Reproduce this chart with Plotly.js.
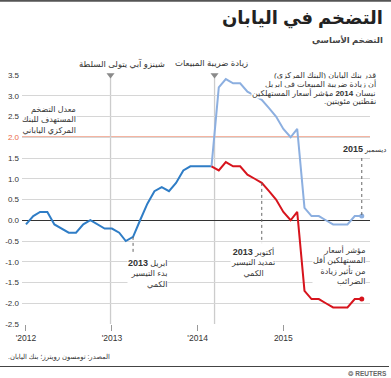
<!DOCTYPE html>
<html>
<head>
<meta charset="utf-8">
<script src="https://cdn.plot.ly/plotly-3.0.1.min.js"></script>
<style>html,body{margin:0;padding:0;background:#fff;}#chart{width:391px;height:378px;}</style>
</head>
<body>
<div id="chart"></div>
<script>
// ---- data ----
var monthsCombined = ['2012-01-01','2012-02-01','2012-03-01','2012-04-01','2012-05-01','2012-06-01','2012-07-01','2012-08-01','2012-09-01','2012-10-01','2012-11-01','2012-12-01',
  '2013-01-01','2013-02-01','2013-03-01','2013-04-01','2013-05-01','2013-06-01','2013-07-01','2013-08-01','2013-09-01','2013-10-01','2013-11-01','2013-12-01',
  '2014-01-01','2014-02-01','2014-03-01'];
var coreCombined = [-0.1,0.1,0.2,0.2,-0.1,-0.2,-0.3,-0.3,-0.1,0.0,-0.1,-0.2,
  -0.2,-0.3,-0.5,-0.4,0.0,0.4,0.7,0.8,0.7,0.9,1.2,1.3,
  1.3,1.3,1.3];
var monthsSplit = ['2014-03-01','2014-04-01','2014-05-01','2014-06-01','2014-07-01','2014-08-01','2014-09-01','2014-10-01','2014-11-01','2014-12-01',
  '2015-01-01','2015-02-01','2015-03-01','2015-04-01','2015-05-01','2015-06-01','2015-07-01','2015-08-01','2015-09-01','2015-10-01','2015-11-01','2015-12-01'];
var coreWithTax = [1.3,3.2,3.4,3.3,3.3,3.1,3.0,2.9,2.7,2.5,2.2,2.0,2.2,0.3,0.1,0.1,0.0,-0.1,-0.1,-0.1,0.1,0.1];
var coreExTax   = [1.3,1.2,1.4,1.3,1.3,1.1,1.0,0.9,0.7,0.5,0.2,0.0,0.2,-1.7,-1.9,-1.9,-2.0,-2.1,-2.1,-2.1,-1.9,-1.9];
var bojTarget = 2.0;
var eventDates = ['2012-12-26','2014-03-14'];
var eventLabels = ['شينزو آبي يتولى السلطة','زيادة ضريبة المبيعات'];
var yTickVals = [-2.5,-2.0,-1.5,-1.0,-0.5,0.0,0.5,1.0,1.5,2.0,2.5,3.0,3.5];
var xTickVals = ['2012-01-01','2013-01-01','2014-01-01','2015-01-01'];
var xTickText = ["'2012","'2013","'2014","2015"];

// ---- layout helpers (pixel -> paper) ----
var W = 391, H = 378, L = 22, R = 21, T = 75, B = 54;
var PW = W - L - R, PH = H - T - B;
function px(x){ return (x - L) / PW; }
function py(y){ return (H - B - y) / PH; }
var RLE = '\u202B';
function yr(s){ return '<b><span style="font-size:9px">' + s + '</span></b>'; }

var cDark = '#2f7dc6', cLight = '#8cafe0', cRed = '#d7141d', cTarget = '#ea6a45', cText = '#333333';
var FONT = 'Liberation Sans, Arial, DejaVu Sans, sans-serif';

var traces = [
  {x: monthsCombined, y: coreCombined, type:'scatter', mode:'lines', line:{color:cDark, width:2}, hoverinfo:'skip'},
  {x: monthsSplit, y: coreWithTax, type:'scatter', mode:'lines', line:{color:cLight, width:2}, hoverinfo:'skip'},
  {x: monthsSplit, y: coreExTax, type:'scatter', mode:'lines', line:{color:cRed, width:2}, hoverinfo:'skip'},
  {x: [monthsSplit[monthsSplit.length-1]], y:[coreWithTax[coreWithTax.length-1]], type:'scatter', mode:'markers', marker:{color:cLight, size:5}, hoverinfo:'skip'},
  {x: [monthsSplit[monthsSplit.length-1]], y:[coreExTax[coreExTax.length-1]], type:'scatter', mode:'markers', marker:{color:cRed, size:5}, hoverinfo:'skip'},
  {x: eventDates, y: [3.5,3.5], type:'scatter', mode:'markers', marker:{symbol:'triangle-down', color:'#8a8a8a', size:7}, cliponaxis:false, hoverinfo:'skip'}
];

var yTickText = yTickVals.map(function(v){
  var s = v.toFixed(1);
  return v === bojTarget ? '<span style="color:'+cTarget+'">'+s+'</span>' : s;
});

function valAt(months, vals, d){ return vals[months.indexOf(d)]; }

var shapes = [
  {type:'line', xref:'paper', yref:'paper', x0:px(0), x1:px(391), y0:py(0.8), y1:py(0.8), line:{color:'#555', width:2}},
  {type:'line', xref:'paper', yref:'paper', x0:px(0), x1:px(389), y0:py(366.5), y1:py(366.5), line:{color:'#444', width:1}},
  {type:'line', xref:'x', yref:'y', x0:eventDates[0], x1:eventDates[0], y0:-2.5, y1:3.5, layer:'below', line:{color:'#cccccc', width:1.3}},
  {type:'line', xref:'x', yref:'y', x0:eventDates[1], x1:eventDates[1], y0:-2.5, y1:3.5, layer:'below', line:{color:'#cccccc', width:1.3}},
  {type:'line', xref:'paper', yref:'y', x0:0, x1:1, y0:bojTarget, y1:bojTarget, layer:'below', line:{color:cTarget, width:1.4}},
  {type:'line', xref:'x', yref:'y', x0:'2013-04-01', x1:'2013-04-01', y0:valAt(monthsCombined, coreCombined,'2013-04-01'), y1:-0.78, line:{color:'#666', width:1, dash:'dot'}},
  {type:'line', xref:'x', yref:'y', x0:'2014-10-01', x1:'2014-10-01', y0:valAt(monthsSplit, coreExTax,'2014-10-01'), y1:-0.55, line:{color:'#666', width:1, dash:'dot'}},
  {type:'line', xref:'x', yref:'y', x0:'2015-12-01', x1:'2015-12-01', y0:1.5, y1:valAt(monthsSplit, coreWithTax,'2015-12-01'), line:{color:'#666', width:1, dash:'dot'}}
];

function ann(text, x, y, xanchor, opts){
  var a = {text:text, xref:'paper', yref:'paper', x:px(x), y:py(y), xanchor:xanchor, yanchor:'middle', showarrow:false,
    align: xanchor === 'center' ? 'center' : xanchor, font:{family:FONT, size:8, color:cText}};
  if (opts) for (var k in opts) a[k] = opts[k];
  return a;
}
var wb = {bgcolor:'#fff', borderpad:0};

var annotations = [
  ann('<b>التضخم في اليابان</b>', 385, 18, 'right', {font:{family:FONT, size:18, color:'#222'}}),
  ann('<b>التضخم الأساسي</b>', 385, 40, 'right', {font:{family:FONT, size:8.5, color:'#444'}}),
  ann(eventLabels[0], 122, 63, 'center', {font:{family:FONT, size:8.5, color:cText}}),
  ann(eventLabels[1], 211, 63, 'center', {font:{family:FONT, size:8.5, color:cText}}),
  ann(RLE + 'قدر بنك اليابان (البنك المركزي)', 377, 75.7, 'right', wb),
  ann('أن زيادة ضريبة المبيعات في ابريل', 377, 84.3, 'right', wb),
  ann(RLE + 'نيسان <b>2014</b> مؤشر أسعار المستهلكين', 377, 93, 'right', wb),
  ann(RLE + 'نقطتين مئويتين.', 377, 101.7, 'right', wb),
  ann('معدل التضخم<br>المستهدف للبنك<br>المركزي الياباني', 77, 119.5, 'right', wb),
  ann(yr('2015') + '<span style="font-size:7px"> ديسمبر</span>', 387, 149, 'right', wb),
  ann(RLE + 'ابريل ' + yr('2013') + '<br>بدء التيسير<br>الكمي', 168, 273.5, 'right', wb),
  ann(RLE + 'أكتوبر ' + yr('2013') + '<br>تمديد التيسير<br>الكمي', 253, 262.5, 'center', wb),
  ann('مؤشر أسعار<br>المستهلكين أقل<br>من تأثير زيادة<br>الضرائب', 366, 265.5, 'right', wb),
  ann(RLE + 'المصدر: تومسون رويترز؛ بنك اليابان.', 112, 357, 'right', {font:{family:FONT, size:6.8, color:cText}}),
  ann('<b>❂ REUTERS</b>', 389, 373, 'right', {font:{family:FONT, size:6.5, color:'#666'}})
];

var layout = {
  width: W, height: H,
  margin:{l:L, r:R, t:T, b:B, pad:0},
  paper_bgcolor:'#fff', plot_bgcolor:'#fff',
  showlegend:false,
  font:{family:FONT, size:8, color:cText},
  xaxis:{type:'date', range:['2011-12-15','2016-01-05'], tickvals:xTickVals, ticktext:xTickText,
    ticks:'outside', ticklen:6, tickwidth:1, tickcolor:'#999', showgrid:false, showline:false, zeroline:false,
    tickfont:{family:FONT, size:8.5, color:cText}, fixedrange:true},
  yaxis:{range:[-2.5,3.5], tickvals:yTickVals, ticktext:yTickText, showgrid:true, gridcolor:'#d6d6d6', gridwidth:1,
    zeroline:true, zerolinecolor:'#333', zerolinewidth:1, ticks:'', showline:false, ticklabelstandoff:2,
    tickfont:{family:FONT, size:8, color:cText}, fixedrange:true},
  shapes: shapes,
  annotations: annotations
};

Plotly.newPlot('chart', traces, layout, {displayModeBar:false, staticPlot:true});
</script>
</body>
</html>
